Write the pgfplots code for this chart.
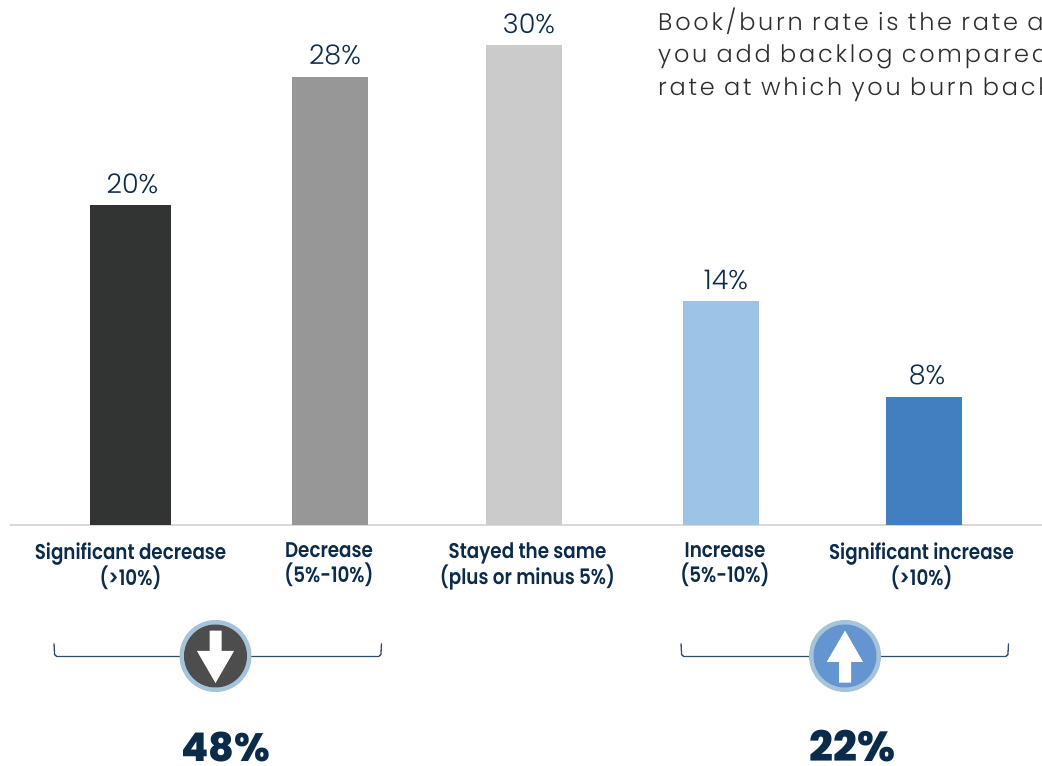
\documentclass[border=0pt]{standalone}
\usepackage{fontspec}
\usepackage{pgfplots}
\pgfplotsset{compat=1.18}
\setmainfont{Poppins}
\newfontfamily\notefont[LetterSpace=11.5]{Poppins Light}
\newfontfamily\valuefont{Poppins Light}
\newfontfamily\catfont[FakeStretch=0.86]{Poppins SemiBold}
\newfontfamily\totalfont{Poppins ExtraBold}
\definecolor{navy}{HTML}{0B2B4B}
\definecolor{rulegrey}{HTML}{D9D9D9}
\definecolor{notegrey}{HTML}{2E2E2E}
\definecolor{ring}{HTML}{A5C3D9}
\definecolor{downfill}{HTML}{4D4D4D}
\definecolor{upfill}{HTML}{6595D0}
\definecolor{barA}{HTML}{323433}
\definecolor{barB}{HTML}{979797}
\definecolor{barC}{HTML}{CBCBCB}
\definecolor{barD}{HTML}{9DC3E6}
\definecolor{barE}{HTML}{417FC1}
\begin{document}
\begin{tikzpicture}
\path[use as bounding box] (0,0) rectangle (1042pt,766pt);
\clip (0,0) rectangle (1042pt,766pt);
\begin{axis}[
  at={(10pt,0pt)},
  anchor=south west,
  scale only axis, width=1032pt, height=766pt,
  xmin=10, xmax=1042, ymin=-15.0625, ymax=32.8125,
  axis y line=none, axis x line=middle,
  axis line style={draw=rulegrey, line width=2pt, -},
  xtick={130.5,329,527.5,725,921.5},
  xticklabels={{Significant decrease\\(>10\%)},{Decrease\\(5\%-10\%)},{Stayed the same\\(plus or minus 5\%)},{Increase\\(5\%-10\%)},{Significant increase\\(>10\%)}},
  major tick length=0pt,
  xticklabel style={align=center, text=navy, yshift=-14pt,
    font=\fontsize{21.3}{25}\selectfont\catfont},
  clip=false,
  ybar, bar shift=0pt,
  /pgf/number format/assume math mode=true,
  nodes near coords={\pgfmathprintnumber{\pgfplotspointmeta}\%},
  every node near coord/.append style={text=navy, font=\fontsize{27}{30}\selectfont\valuefont, yshift=8pt},
]
\addplot[fill=barA, draw=none, bar width=81pt, nodes near coords style={xshift=2pt}] coordinates {(130.5,20)};
\addplot[fill=barB, draw=none, bar width=76pt, nodes near coords style={xshift=5pt}] coordinates {(330,28)};
\addplot[fill=barC, draw=none, bar width=76pt, nodes near coords style={xshift=5pt}] coordinates {(524,30)};
\addplot[fill=barD, draw=none, bar width=76pt, nodes near coords style={xshift=5pt}] coordinates {(721,14)};
\addplot[fill=barE, draw=none, bar width=76pt, nodes near coords style={xshift=3pt}] coordinates {(924,8)};
\end{axis}
% annotations, measured down from the top edge
\begin{scope}[x=1pt,y=-1pt,shift={(0pt,766pt)}]
  \node[anchor=base west, inner sep=0, text=notegrey, font=\fontsize{24}{24}\selectfont\notefont] at (658,31) {Book/burn rate is the rate at which};
  \node[anchor=base west, inner sep=0, text=notegrey, font=\fontsize{24}{24}\selectfont\notefont] at (658,63) {you add backlog compared to the};
  \node[anchor=base west, inner sep=0, text=notegrey, font=\fontsize{24}{24}\selectfont\notefont] at (658,96) {rate at which you burn backlog.};
  % brackets
  \foreach \xa/\xb in {54/381.5,681/1008.5}{
    \draw[navy!85, line width=1.3pt, rounded corners=2pt] (\xa,643.5) -- (\xa+0.7,656.5) -- (\xb-0.7,656.5) -- (\xb,643.5);
  }
  % downward badge
  \fill[ring] (215.5,656) circle (36);
  \fill[downfill] (215.5,656) circle (31.5);
  \fill[white] (209.7,630.7) -- (221.7,630.7) -- (221.7,651) -- (234,651) -- (215.5,683) -- (197,651) -- (209.7,651) -- cycle;
  % upward badge
  \fill[ring] (845,656) circle (36);
  \fill[upfill] (845,656) circle (31.5);
  \fill[white] (845,630.7) -- (863,662) -- (851,662) -- (851,682.7) -- (839,682.7) -- (839,662) -- (826.7,662) -- cycle;
  % totals
  \node[anchor=base, inner sep=0, text=navy, font=\fontsize{39.5}{40}\selectfont\totalfont] at (225.5,762) {48\%};
  \node[anchor=base, inner sep=0, text=navy, font=\fontsize{42}{42}\selectfont\totalfont] at (852.5,762) {22\%};
\end{scope}
\end{tikzpicture}
\end{document}
